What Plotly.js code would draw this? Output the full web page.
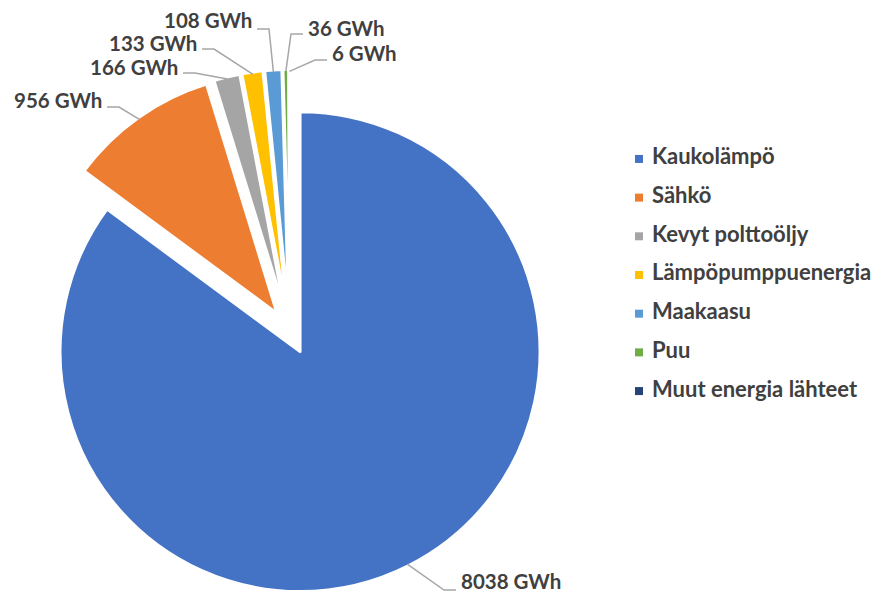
<!DOCTYPE html>
<html><head><meta charset="utf-8">
<script src="https://cdn.plot.ly/plotly-3.0.1.min.js"></script>
<style>html,body{margin:0;padding:0;background:#fff;overflow:hidden}</style>
</head><body><div id="chart" style="width:886px;height:594px"></div>
<script>
// ---- data ----
const categories = ['Kaukolämpö','Sähkö','Kevyt polttoöljy','Lämpöpumppuenergia','Maakaasu','Puu','Muut energia lähteet'];
const values = [8038, 956, 166, 133, 108, 36, 6];
const unit = 'GWh';

// ---- style / layout ----
const sliceColors = ['#4472C4','#ED7D31','#A5A5A5','#FFC000','#5B9BD5','#70AD47','#264478'];
const W = 886, H = 594;
const pullFrac = 0.093;
const FONT = 'Lato, "Open Sans", sans-serif';
const textColor = '#404040';
const lineColor = '#A6A6A6';
// label placement: [edge x px, text centre y px, side (1 = text right of leader), leader y offset]
const labelPlacement = [[460,581,1,9],[103,100,-1,7],[179,67,-1,6],[198,43,-1,6],[253,19.5,-1,9.5],[307,28,1,6],[331,53,1,7]];

const pieTrace = {
  type:'pie', values:values, labels:categories, sort:false, direction:'clockwise', rotation:0,
  pull: values.map(()=>pullFrac), textinfo:'none', hoverinfo:'label+value', showlegend:false,
  marker:{colors:sliceColors, line:{color:'#ffffff', width:3}},
  domain:{x:[27.7/W, 552.3/W], y:[0, 524.6/H]}
};
const legendMarkers = {
  type:'scatter', mode:'markers', x: categories.map(()=>0), y: categories,
  xaxis:'x2', yaxis:'y2', marker:{symbol:'square', size:8, color:sliceColors},
  showlegend:false, hoverinfo:'skip', cliponaxis:false
};
const legendText = {
  type:'scatter', mode:'text', x: categories.map(()=>13), y: categories,
  text: categories.map(c => '<b>' + c + '</b>'),
  textposition:'middle right', xaxis:'x2', yaxis:'y2',
  textfont:{family:FONT, size:22, color:textColor},
  showlegend:false, hoverinfo:'skip', cliponaxis:false
};
const layout = {
  width:W, height:H, margin:{l:0,r:0,t:0,b:0}, paper_bgcolor:'#fff', plot_bgcolor:'rgba(0,0,0,0)',
  font:{family:FONT, color:textColor},
  xaxis2:{domain:[620/W,1], range:[-19,247], visible:false, fixedrange:true, anchor:'y2'},
  yaxis2:{domain:[1-410.4/H, 1-139.6/H], type:'category', range:[6.5,-0.5], visible:false, fixedrange:true, anchor:'x2'},
  showlegend:false
};
const gd = document.getElementById('chart');
Plotly.newPlot(gd, [pieTrace, legendMarkers, legendText], layout, {staticPlot:true}).then(()=>{
  const cd0 = gd.calcdata[0][0];
  const fs = gd._fullLayout._size;
  const cx = cd0.cx, cy = cd0.cy, r = cd0.r;
  const toPX = x => (x - fs.l)/fs.w, toPY = y => 1 - (y - fs.t)/fs.h;
  const total = values.reduce((a,b)=>a+b,0);
  let cum = 0;
  const shapes = [], annotations = [];
  values.forEach((v,i)=>{
    const mid = (cum + v/2)/total*2*Math.PI; cum += v;
    const ux = Math.sin(mid), uy = -Math.cos(mid);
    const tipX = cx + r*pullFrac*ux + (r-2)*ux;
    const tipY = cy + r*pullFrac*uy + (r-2)*uy;
    const [ex, ey, side, off] = labelPlacement[i];
    const ly = ey + off;
    const sx = ex - side*4, elx = sx - side*12;
    shapes.push({type:'path', xref:'paper', yref:'paper',
      path:`M${toPX(sx)},${toPY(ly)} L${toPX(elx)},${toPY(ly)} L${toPX(tipX)},${toPY(tipY)}`,
      line:{color:lineColor, width:1.5}});
    annotations.push({xref:'paper', yref:'paper', x:toPX(ex), y:toPY(ey),
      xanchor: side===1?'left':'right', yanchor:'middle', showarrow:false,
      text: `<b>${v} ${unit}</b>`, font:{family:FONT, size:20.5, color:textColor}, borderpad:0});
  });
  return Plotly.relayout(gd, {shapes:shapes, annotations:annotations});
});
</script></body></html>
